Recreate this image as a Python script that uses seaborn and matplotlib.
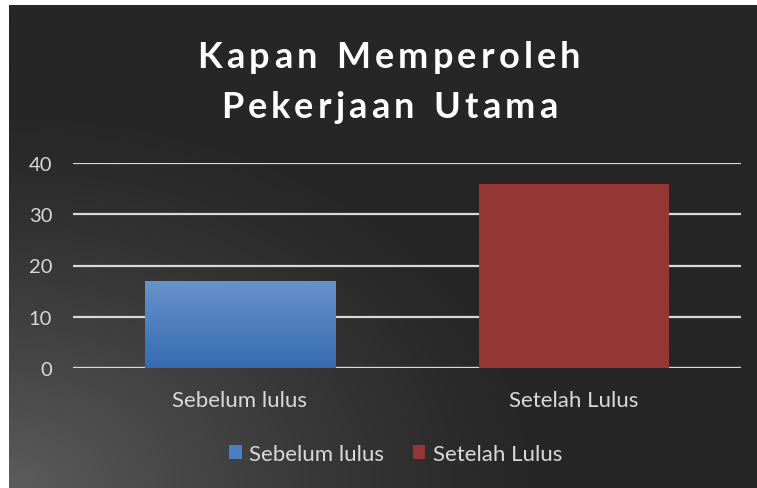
import matplotlib.pyplot as plt
import numpy as np
import pandas as pd
import seaborn as sns
from matplotlib.patches import Patch

categories = ['Sebelum lulus', 'Setelah Lulus']
values = [17, 36]
colors = ['#4a7fc1', '#943634']
title_lines = ['Kapan Memperoleh', 'Pekerjaan Utama']
yticks = [0, 10, 20, 30, 40]

sns.set_theme(style='white')
plt.rcParams['font.family'] = ['Lato', 'DejaVu Sans']

fig = plt.figure(figsize=(7.57, 4.89), dpi=100)
fig.patch.set_facecolor('white')

# dark background with a lighter glow from the bottom-left corner
bg = fig.add_axes([9 / 757, 0, 1 - 9 / 757, 1 - 6 / 489], zorder=0)
yy, xx = np.mgrid[0:1:300j, 0:1:400j]
d = np.sqrt((xx * 1.1) ** 2 + ((1 - yy) * 1.0) ** 2)
shade = np.clip(1 - d / 0.8, 0, 1) ** 1.3
base = np.array([38, 38, 38]) / 255
light = np.array([92, 92, 92]) / 255
img = base + (light - base) * shade[..., None]
bg.imshow(img, aspect='auto', extent=[0, 1, 0, 1], origin='upper')
bg.set_axis_off()

ax = fig.add_axes([73 / 757, 1 - 369 / 489, 668 / 757, 205 / 489], zorder=1)
ax.patch.set_alpha(0)

df = pd.DataFrame({'cat': categories, 'val': values})
sns.barplot(data=df, x='cat', y='val', hue='cat', palette=colors,
            width=0.57, legend=False, ax=ax, zorder=3, saturation=1, linewidth=0)

# vertical gradient on the blue bar
bar = ax.patches[0]
x0, w, h = bar.get_x(), bar.get_width(), bar.get_height()
grad = np.linspace(0, 1, 100)[:, None]
top = np.array([0x68, 0x93, 0xcb]) / 255
bot = np.array([0x37, 0x6b, 0xb3]) / 255
gimg = top + (bot - top) * grad[..., None]
gimg = np.repeat(gimg, 2, axis=1)
im = ax.imshow(gimg, aspect='auto', extent=[x0, x0 + w, 0, h], zorder=4)
im.set_clip_path(bar)

ax.set_xlim(-0.5, 1.5)
ax.set_ylim(0, 40)
ax.set_yticks(yticks)
for t in yticks:
    ax.axhline(t, color='#d9d9d9', lw=1.6 if t else 2.4, zorder=2)
for s in ax.spines.values():
    s.set_visible(False)
ax.set_xlabel('')
ax.set_ylabel('')
ax.tick_params(axis='both', length=0, colors='#d9d9d9')
ax.tick_params(axis='x', labelsize=16, pad=16)
ax.tick_params(axis='y', labelsize=14.5, pad=15)

# title with letter spacing, drawn char by char
renderer = fig.canvas.get_renderer()
W, H = fig.bbox.width, fig.bbox.height
tkw = dict(fontsize=26, fontweight='bold', color='white')
targets = [383, 336]
centers_y = [58, 108]
for line, tw, cy in zip(title_lines, targets, centers_y):
    widths = []
    for ch in line:
        t = fig.text(0, 0, 'n' if ch == ' ' else ch, **tkw)
        widths.append(t.get_window_extent(renderer).width * (0.55 if ch == ' ' else 1))
        t.remove()
    track = (tw - sum(widths)) / (len(line) - 1)
    x = 389 - tw / 2
    for ch, cw in zip(line, widths):
        if ch != ' ':
            fig.text(x / W, 1 - cy / H, ch, ha='left', va='center', **tkw)
        x += cw + track

handles = [Patch(facecolor=c, edgecolor='none') for c in colors]
fig.legend(handles, categories, loc='center', bbox_to_anchor=(0.523, 1 - 455 / 489),
           ncol=2, frameon=False, fontsize=16, labelcolor='#d9d9d9',
           handlelength=0.55, handleheight=0.55, handletextpad=0.35, columnspacing=1.3)

fig.savefig('out.png', dpi=100, facecolor='white')
